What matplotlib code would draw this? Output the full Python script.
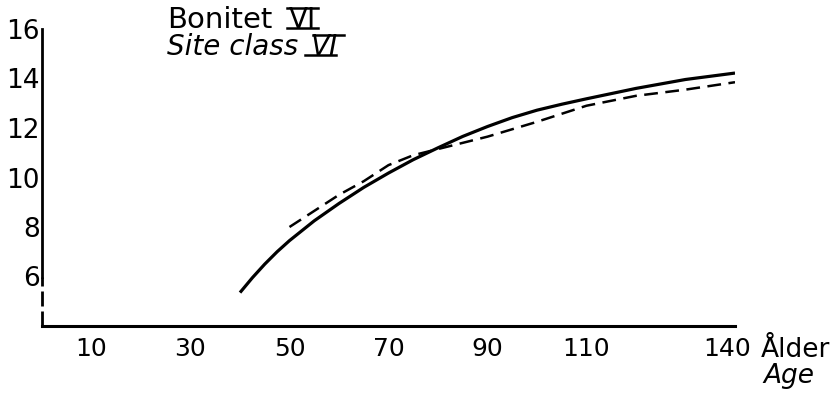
import matplotlib
matplotlib.use("Agg")
import matplotlib.pyplot as plt
from matplotlib.lines import Line2D
from matplotlib.transforms import ScaledTranslation

plt.rcParams['font.family'] = ['DejaVu Sans']

# height curve (solid) and measured mean heights (dashed), site class VI
age_curve = [40, 42.5, 45, 47.5, 50, 55, 60, 65, 70, 75, 80, 85, 90, 95, 100,
             105, 110, 120, 130, 140]
height_curve = [5.35, 5.95, 6.5, 7.0, 7.45, 8.25, 8.95, 9.6, 10.18, 10.72, 11.2,
                11.66, 12.06, 12.42, 12.72, 12.96, 13.18, 13.6, 13.96, 14.22]

age_obs = [50, 55, 60, 65, 70, 75, 80, 85, 90, 100, 110, 120, 130, 140]
height_obs = [8.0, 8.65, 9.3, 9.85, 10.5, 10.9, 11.15, 11.4, 11.65, 12.25,
              12.9, 13.3, 13.55, 13.85]

x_ticks = [10, 30, 50, 70, 90, 110, 140]
y_ticks = [6, 8, 10, 12, 14, 16]

W, H = 835, 395
fig = plt.figure(figsize=(W / 100, H / 100), dpi=100)
ax = fig.add_axes([42 / W, 1 - 326 / H, 693 / W, 297 / H])

ax.plot(age_curve, height_curve, color='black', lw=2.3, solid_capstyle='butt')
ax.plot(age_obs, height_obs, color='black', lw=1.8, dashes=(5.5, 3))

ax.set_xlim(0, 140)
ax.set_ylim(4, 16)
ax.set_xticks(x_ticks)
ax.set_yticks(y_ticks)
ax.tick_params(length=0, labelsize=19)
ax.tick_params(axis='x', pad=8, labelsize=18)
ax.tick_params(axis='y', pad=1.5)

# pull the last age label left so it clears "Ålder"
last = ax.get_xticklabels()[-1]
last.set_transform(last.get_transform() + ScaledTranslation(-0.08, 0, fig.dpi_scale_trans))

for side in ['top', 'right']:
    ax.spines[side].set_visible(False)
ax.spines['bottom'].set_linewidth(2.2)
ax.spines['left'].set_linewidth(2.0)
ax.spines['left'].set_bounds(6, 16)
# broken part of the y axis below 6
ax.vlines(0, 4, 6, colors='black', lw=2.0, linestyles=(0, (5.4, 1.8)), clip_on=False)

fig.text(761 / W, 1 - 357 / H, 'Ålder', fontsize=19, ha='left', va='baseline')
fig.text(763 / W, 1 - 383 / H, 'Age', fontsize=19, style='italic',
         ha='left', va='baseline')

fs = 20
fig.text(167 / W, 1 - 28 / H, 'Bonitet', fontsize=21, ha='left', va='baseline')
fig.text(167 / W, 1 - 55 / H, 'Site class', fontsize=fs, style='italic',
         ha='left', va='baseline')

# roman numeral VI with bars above and below
numerals = []
for x, y, st in [(289, 28, 'normal'), (311, 55, 'italic')]:
    t = fig.text(x / W, 1 - y / H, 'VI', fontsize=fs, style=st,
                 ha='left', va='baseline')
    numerals.append((t, y, st))

fig.canvas.draw()
renderer = fig.canvas.get_renderer()
cap = 0.73 * fs * 100 / 72
for t, y, st in numerals:
    bb = t.get_window_extent(renderer)
    base = H - y
    slant = 4 if st == 'italic' else 0
    x0, x1 = bb.x0 - 2, bb.x1 + 2
    fig.add_artist(Line2D([(x0 + slant) / W, (x1 + slant) / W], [(base + cap) / H] * 2,
                          color='black', lw=1.8, transform=fig.transFigure))
    fig.add_artist(Line2D([(x0 - slant) / W, (x1 - slant) / W], [base / H] * 2,
                          color='black', lw=1.8, transform=fig.transFigure))

fig.savefig('out.png', dpi=100)
